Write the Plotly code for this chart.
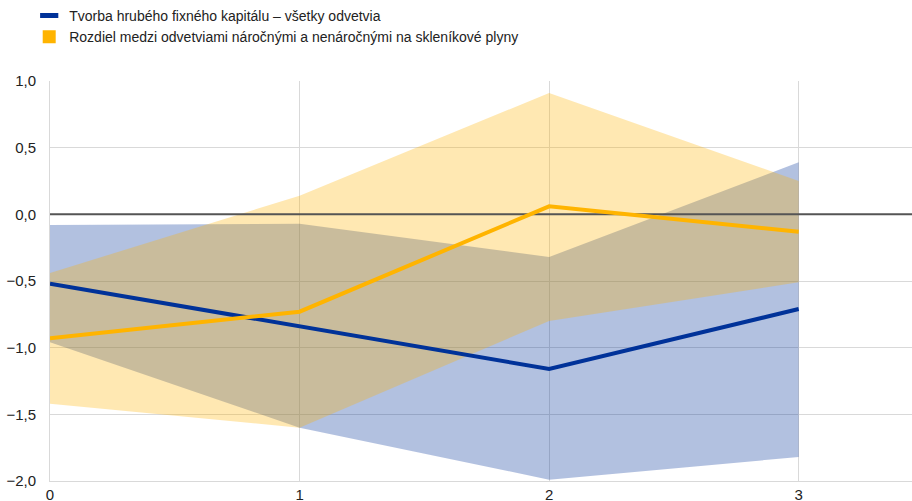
import plotly.graph_objects as go

# Horizon (years) on the x axis
horizon = [0, 1, 2, 3]

# Gross fixed capital formation – all sectors: central estimate and band
gfcf_mid = [-0.52, -0.84, -1.16, -0.71]
gfcf_hi = [-0.08, -0.07, -0.32, 0.39]
gfcf_lo = [-0.96, -1.60, -1.99, -1.82]

# Difference between GHG-intensive and non-intensive sectors
diff_mid = [-0.93, -0.73, 0.06, -0.13]
diff_hi = [-0.44, 0.14, 0.91, 0.25]
diff_lo = [-1.42, -1.60, -0.80, -0.51]

names = [
    "Tvorba hrubého fixného kapitálu – všetky odvetvia",
    "Rozdiel medzi odvetviami náročnými a nenáročnými na skleníkové plyny",
]

x_range = [0, 3.454]
y_range = [-2.0, 1.0]
y_ticks = [-2.0, -1.5, -1.0, -0.5, 0.0, 0.5, 1.0]

BLUE = "#003299"
YELLOW = "#FFB400"
FONT = "Liberation Sans, Arial, sans-serif"

fig = go.Figure()


def band(lo, hi, rgba):
    fig.add_trace(go.Scatter(
        x=horizon + horizon[::-1], y=hi + lo[::-1],
        fill="toself", fillcolor=rgba, mode="none",
        hoverinfo="skip", showlegend=False,
    ))


band(gfcf_lo, gfcf_hi, "rgba(0,50,153,0.30)")
band(diff_lo, diff_hi, "rgba(255,180,0,0.30)")

# zero reference line, above the bands but below the lines
fig.add_trace(go.Scatter(
    x=x_range, y=[0, 0], mode="lines",
    line=dict(color="#555555", width=2), hoverinfo="skip", showlegend=False,
))

fig.add_trace(go.Scatter(x=horizon, y=gfcf_mid, mode="lines",
                         line=dict(color=BLUE, width=4), showlegend=False))
fig.add_trace(go.Scatter(x=horizon, y=diff_mid, mode="lines",
                         line=dict(color=YELLOW, width=4), showlegend=False))

# legend entries: a short bar for the first series, a square for the second
fig.add_trace(go.Scatter(
    x=[None], y=[None], mode="markers", name=names[0],
    marker=dict(symbol="line-ew", size=13, line=dict(color=BLUE, width=5)),
))
fig.add_trace(go.Scatter(
    x=[None], y=[None], mode="markers", name=names[1],
    marker=dict(symbol="square", size=13, color=YELLOW),
))

fig.update_layout(
    width=912, height=501,
    margin=dict(l=50, r=0, t=81, b=20),
    paper_bgcolor="white", plot_bgcolor="white",
    font=dict(family=FONT, size=14, color="#222222"),
    separators=",.",
    showlegend=True,
    legend=dict(
        x=-22 / 912, y=1.0, xref="paper", yref="container",
        xanchor="left", yanchor="top",
        font=dict(family=FONT, size=14, color="#222222"),
        bgcolor="rgba(0,0,0,0)", itemclick=False,
        tracegroupgap=0,
    ),
)
fig.update_xaxes(
    range=x_range, tickvals=horizon, ticktext=[str(h) for h in horizon],
    showgrid=True, gridcolor="#d9d9d9", gridwidth=1,
    zeroline=False, showline=True, linecolor="#d9d9d9", linewidth=1,
    ticks="", tickfont=dict(size=15, color="#222222"), automargin=False,
)
fig.update_yaxes(
    range=y_range, tickvals=y_ticks, tickformat=".1f",
    showgrid=True, gridcolor="#d9d9d9", gridwidth=1,
    zeroline=False, showline=True, linecolor="#d9d9d9", linewidth=1,
    ticks="", ticklabelstandoff=10,
    tickfont=dict(size=15, color="#222222"), automargin=False,
)

fig.write_html("out.html")
